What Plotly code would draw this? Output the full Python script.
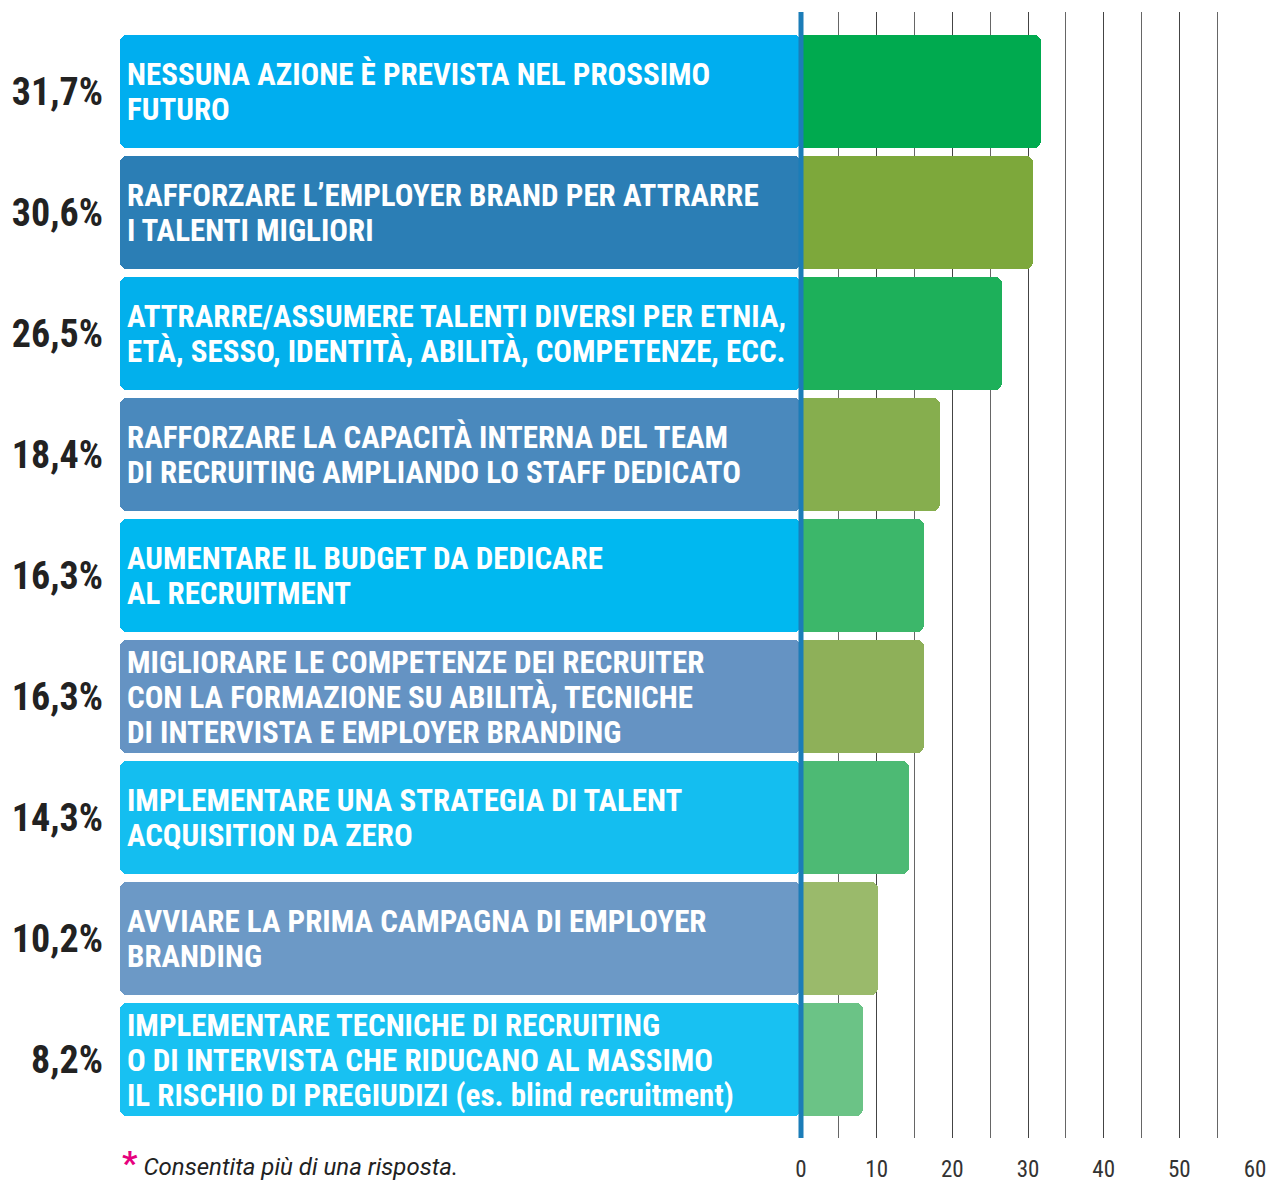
import plotly.graph_objects as go

categories = [
    "NESSUNA AZIONE È PREVISTA NEL PROSSIMO<br>FUTURO",
    "RAFFORZARE L’EMPLOYER BRAND PER ATTRARRE<br>I TALENTI MIGLIORI",
    "ATTRARRE/ASSUMERE TALENTI DIVERSI PER ETNIA,<br>ETÀ, SESSO, IDENTITÀ, ABILITÀ, COMPETENZE, ECC.",
    "RAFFORZARE LA CAPACITÀ INTERNA DEL TEAM<br>DI RECRUITING AMPLIANDO LO STAFF DEDICATO",
    "AUMENTARE IL BUDGET DA DEDICARE<br>AL RECRUITMENT",
    "MIGLIORARE LE COMPETENZE DEI RECRUITER<br>CON LA FORMAZIONE SU ABILITÀ, TECNICHE<br>DI INTERVISTA E EMPLOYER BRANDING",
    "IMPLEMENTARE UNA STRATEGIA DI TALENT<br>ACQUISITION DA ZERO",
    "AVVIARE LA PRIMA CAMPAGNA DI EMPLOYER<br>BRANDING",
    "IMPLEMENTARE TECNICHE DI RECRUITING<br>O DI INTERVISTA CHE RIDUCANO AL MASSIMO<br>IL RISCHIO DI PREGIUDIZI (es. blind recruitment)",
]
values = [31.7, 30.6, 26.5, 18.4, 16.3, 16.3, 14.3, 10.2, 8.2]
box_colors = ["#00AEEF", "#2B7EB5", "#02B0EC", "#4A89BD", "#00B8F0",
              "#6593C3", "#14BEF0", "#6C99C6", "#18C1F2"]
bar_colors = ["#00AA4F", "#7DA83B", "#1DB05A", "#86AE4E", "#3CB76A",
              "#8EB059", "#4DBA74", "#9ABA6B", "#6BC386"]
x_ticks = [0, 10, 20, 30, 40, 50, 60]
x_minor = [5, 15, 25, 35, 45, 55]
footnote = "Consentita più di una risposta."

COND = "Roboto Condensed, Liberation Sans Narrow, DejaVu Sans Condensed, Roboto, sans-serif"
LABEL_SPAN = 90  # width of the label panel in axis units
LINE_PX = 35

ypos = list(range(len(values)))
pct_text = [f"{v:.1f}".replace(".", ",") + "%" for v in values]

fig = go.Figure()
fig.add_trace(go.Bar(
    y=ypos, x=[-LABEL_SPAN] * len(values), base=0, orientation="h",
    marker=dict(color=box_colors, cornerradius=7, line=dict(width=0)),
    width=0.934, hoverinfo="skip", showlegend=False,
))
fig.add_trace(go.Bar(
    y=ypos, x=values, orientation="h",
    marker=dict(color=bar_colors, cornerradius=7, line=dict(width=0)),
    width=0.934, showlegend=False,
))

for i, txt in enumerate(categories):
    lines = txt.split("<br>")
    n = len(lines)
    for k, line in enumerate(lines):
        fig.add_annotation(
            x=-LABEL_SPAN, y=i, xref="x", yref="y", text=f"<b>{line}</b>",
            xanchor="left", yanchor="middle", align="left", xshift=5,
            yshift=-(k - (n - 1) / 2) * LINE_PX - 1, showarrow=False,
            font=dict(family=COND, size=31, color="white"),
        )

fig.add_shape(type="line", xref="x", yref="paper", x0=0, x1=0, y0=0, y1=1,
              line=dict(color="#1B7DB8", width=5), layer="above")

fig.add_annotation(
    xref="paper", yref="paper", x=0, y=-0.022, xanchor="left", yanchor="middle",
    showarrow=False, align="left",
    text=f"<span style='color:#E6007E;font-size:34px'><b>*</b></span> <i>{footnote}</i>",
    font=dict(family="Roboto, sans-serif", size=24, color="#222222"),
)

fig.update_layout(
    width=1268, height=1182,
    margin=dict(l=120, r=13, t=12, b=44, autoexpand=False),
    plot_bgcolor="white", paper_bgcolor="white",
    bargap=0, barmode="overlay",
    xaxis=dict(
        range=[-LABEL_SPAN, 60], tickmode="array", tickvals=x_ticks,
        ticktext=[str(t) for t in x_ticks], automargin=False,
        showgrid=True, gridcolor="#444444", gridwidth=1, zeroline=False,
        showline=False, ticks="", ticklabelstandoff=15,
        tickfont=dict(family=COND, size=23, color="#333333"),
        minor=dict(tickmode="array", tickvals=x_minor, showgrid=True,
                   gridcolor="#666666", gridwidth=1),
        fixedrange=True,
    ),
    yaxis=dict(
        range=[8.65, -0.657], tickmode="array", tickvals=ypos, ticktext=pct_text,
        showgrid=False, zeroline=False, showline=False, ticks="", automargin=False,
        ticklabelstandoff=16,
        tickfont=dict(family=COND, size=38, color="#222222", weight="bold"),
        fixedrange=True,
    ),
)

fig.write_html(
    "out.html",
    config={"displayModeBar": False},
    post_script="document.body.style.margin='0';document.body.style.overflow='hidden';",
)
